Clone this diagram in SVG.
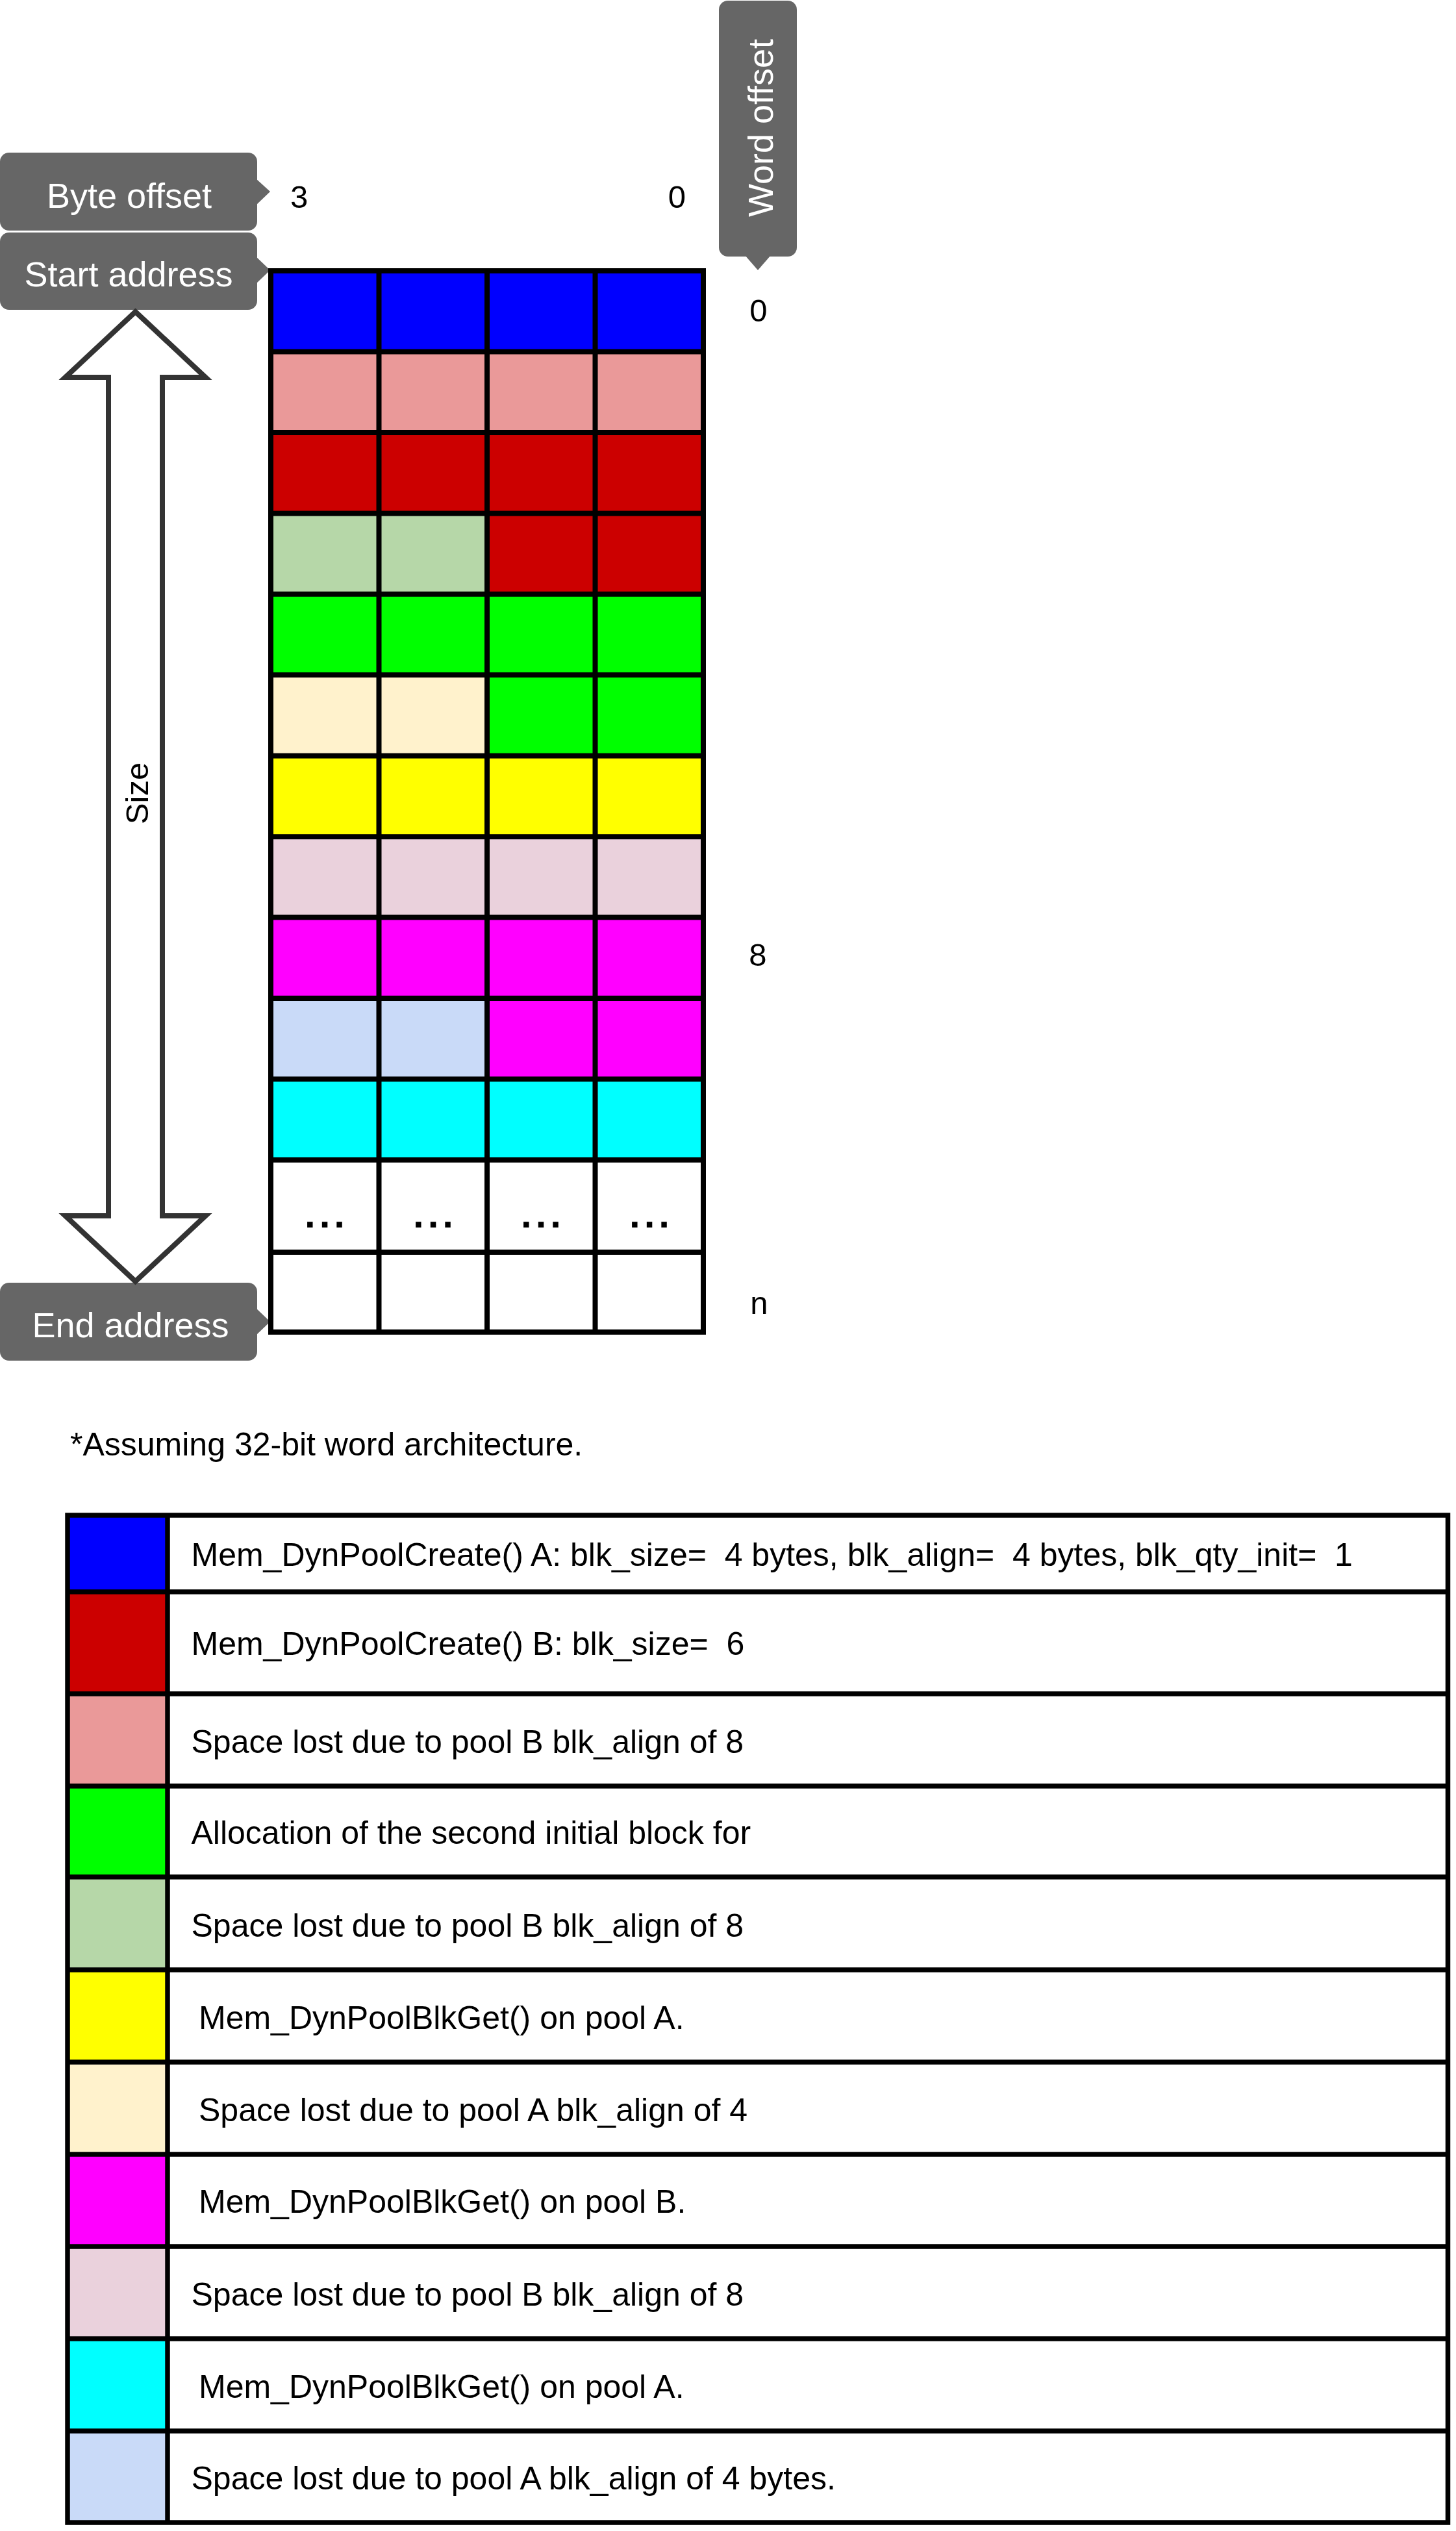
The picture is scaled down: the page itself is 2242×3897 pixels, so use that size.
<svg xmlns="http://www.w3.org/2000/svg" width="2242" height="3897" viewBox="0 0 2242 3897" xml:space="preserve">
<style>
  text { font-family: "Liberation Sans", Arial, sans-serif; }
  .callout { fill: #666666; }
  .callout-text { fill: #ffffff; font-size: 54px; text-anchor: middle; }
  .label { fill: #000000; font-size: 49px; }
  .grid-line { stroke: #000000; stroke-width: 8; fill: none; }
  .leg-line { stroke: #000000; stroke-width: 7.5; fill: none; }
  .leg-text { fill: #000000; font-size: 50px; white-space: pre; }
  .dots { fill: #000000; font-size: 60px; font-weight: bold; text-anchor: middle; letter-spacing: 6px; }
  .c-blue { fill: #0000FF; } .c-pink { fill: #EA9999; } .c-red { fill: #CC0000; }
  .c-lgreen { fill: #B6D7A8; } .c-green { fill: #00FF00; } .c-beige { fill: #FFF2CC; }
  .c-yellow { fill: #FFFF00; } .c-lpink { fill: #EAD1DC; } .c-magenta { fill: #FF00FF; }
  .c-lblue { fill: #C9DAF8; } .c-cyan { fill: #00FFFF; } .c-white { fill: #FFFFFF; }
</style>
<rect x="0" y="0" width="2242" height="3897" fill="#ffffff"/>

<!-- Callout: Byte offset -->
<g id="byte-offset">
  <rect class="callout" x="0" y="235" width="396" height="120" rx="14"/>
  <polygon class="callout" points="394,275 416,295 394,316"/>
  <text class="callout-text" x="199" y="320">Byte offset</text>
</g>

<!-- Callout: Start address -->
<g id="start-address">
  <rect class="callout" x="0" y="358" width="396" height="119" rx="14"/>
  <polygon class="callout" points="394,395 416,416 394,437"/>
  <text class="callout-text" x="198" y="441">Start address</text>
</g>

<!-- Callout: End address -->
<g id="end-address">
  <rect class="callout" x="0" y="1975" width="396" height="120" rx="14"/>
  <polygon class="callout" points="394,2014 416,2035 394,2056"/>
  <text class="callout-text" x="201" y="2059">End address</text>
</g>

<!-- Callout: Word offset -->
<g id="word-offset">
  <rect class="callout" x="1107" y="1" width="120" height="394" rx="14"/>
  <polygon class="callout" points="1147,393 1167,416 1187,393"/>
  <text class="callout-text" transform="translate(1190,197) rotate(-90)" x="0" y="0">Word offset</text>
</g>

<!-- Byte / word offset labels -->
<g id="offset-labels">
  <text class="label" x="447" y="320">3</text>
  <text class="label" x="1056" y="320" text-anchor="end">0</text>
  <text class="label" x="1168" y="495" text-anchor="middle">0</text>
  <text class="label" x="1167" y="1487" text-anchor="middle">8</text>
  <text class="label" x="1169" y="2023" text-anchor="middle">n</text>
</g>

<!-- Size arrow -->
<g id="connectors">
  <g id="size-arrow">
    <path d="M208.5,480 L316.5,581 L250,581 L250,1872 L316.5,1872 L208.5,1973 L100.5,1872 L167,1872 L167,581 L100.5,581 Z" fill="#ffffff" stroke="#333333" stroke-width="8" stroke-linejoin="miter"/>
    <text class="label" transform="translate(228,1221.5) rotate(-90)" x="0" y="0" text-anchor="middle">Size</text>
  </g>
</g>

<!-- Memory grid -->
<g id="memory-grid">
  <rect class="c-blue" x="417" y="417" width="666" height="124.5"/>
  <rect class="c-pink" x="417" y="541.5" width="666" height="124.4"/>
  <rect class="c-red" x="417" y="665.9" width="666" height="124.5"/>
  <rect class="c-lgreen" x="417" y="790.4" width="333" height="124.4"/>
  <rect class="c-red" x="750" y="790.4" width="333" height="124.4"/>
  <rect class="c-green" x="417" y="914.8" width="666" height="124.5"/>
  <rect class="c-beige" x="417" y="1039.3" width="333" height="124.4"/>
  <rect class="c-green" x="750" y="1039.3" width="333" height="124.4"/>
  <rect class="c-yellow" x="417" y="1163.7" width="666" height="124.5"/>
  <rect class="c-lpink" x="417" y="1288.2" width="666" height="124.4"/>
  <rect class="c-magenta" x="417" y="1412.6" width="666" height="124.5"/>
  <rect class="c-lblue" x="417" y="1537.1" width="333" height="124.4"/>
  <rect class="c-magenta" x="750" y="1537.1" width="333" height="124.4"/>
  <rect class="c-cyan" x="417" y="1661.5" width="666" height="124.5"/>
  <rect class="c-white" x="417" y="1786" width="666" height="265"/>

  <path class="grid-line" d="M417,417 H1083 V2051 H417 Z
    M583.5,417 V2051 M750,417 V2051 M916.5,417 V2051
    M417,541.5 H1083 M417,665.9 H1083 M417,790.4 H1083 M417,914.8 H1083
    M417,1039.3 H1083 M417,1163.7 H1083 M417,1288.2 H1083 M417,1412.6 H1083
    M417,1537.1 H1083 M417,1661.5 H1083 M417,1786 H1083 M417,1928 H1083"/>

  <text class="dots" x="503" y="1890">...</text>
  <text class="dots" x="670" y="1890">...</text>
  <text class="dots" x="836" y="1890">...</text>
  <text class="dots" x="1003" y="1890">...</text>
</g>

<!-- Footnote -->
<g id="footnote">
  <text class="leg-text" x="108" y="2241">*Assuming 32-bit word architecture.</text>
</g>

<!-- Legend -->
<g id="legend">
  <rect class="c-blue" x="104" y="2333" width="154" height="118"/>
  <rect class="c-red" x="104" y="2451" width="154" height="157"/>
  <rect class="c-pink" x="104" y="2608" width="154" height="142"/>
  <rect class="c-green" x="104" y="2750" width="154" height="140"/>
  <rect class="c-lgreen" x="104" y="2890" width="154" height="143"/>
  <rect class="c-yellow" x="104" y="3033" width="154" height="142"/>
  <rect class="c-beige" x="104" y="3175" width="154" height="142"/>
  <rect class="c-magenta" x="104" y="3317" width="154" height="142"/>
  <rect class="c-lpink" x="104" y="3459" width="154" height="142"/>
  <rect class="c-cyan" x="104" y="3601" width="154" height="142"/>
  <rect class="c-lblue" x="104" y="3743" width="154" height="141"/>

  <path class="leg-line" d="M104,2333 H2229.5 V3884 H104 Z M258,2333 V3884
    M104,2451 H2229.5 M104,2608 H2229.5 M104,2750 H2229.5 M104,2890 H2229.5
    M104,3033 H2229.5 M104,3175 H2229.5 M104,3317 H2229.5 M104,3459 H2229.5
    M104,3601 H2229.5 M104,3743 H2229.5"/>

  <text class="leg-text" xml:space="preserve" x="294.5" y="2411">Mem_DynPoolCreate() A: blk_size=  4 bytes, blk_align=  4 bytes, blk_qty_init=  1</text>
  <text class="leg-text" xml:space="preserve" x="294.5" y="2548">Mem_DynPoolCreate() B: blk_size=  6</text>
  <text class="leg-text" x="294.5" y="2699">Space lost due to pool B blk_align of 8</text>
  <text class="leg-text" x="294.5" y="2839">Allocation of the second initial block for</text>
  <text class="leg-text" x="294.5" y="2982">Space lost due to pool B blk_align of 8</text>
  <text class="leg-text" x="306" y="3124">Mem_DynPoolBlkGet() on pool A.</text>
  <text class="leg-text" x="306" y="3266">Space lost due to pool A blk_align of 4</text>
  <text class="leg-text" x="306" y="3407">Mem_DynPoolBlkGet() on pool B.</text>
  <text class="leg-text" x="294.5" y="3550">Space lost due to pool B blk_align of 8</text>
  <text class="leg-text" x="306" y="3692">Mem_DynPoolBlkGet() on pool A.</text>
  <text class="leg-text" x="294.5" y="3833">Space lost due to pool A blk_align of 4 bytes.</text>
</g>
</svg>
